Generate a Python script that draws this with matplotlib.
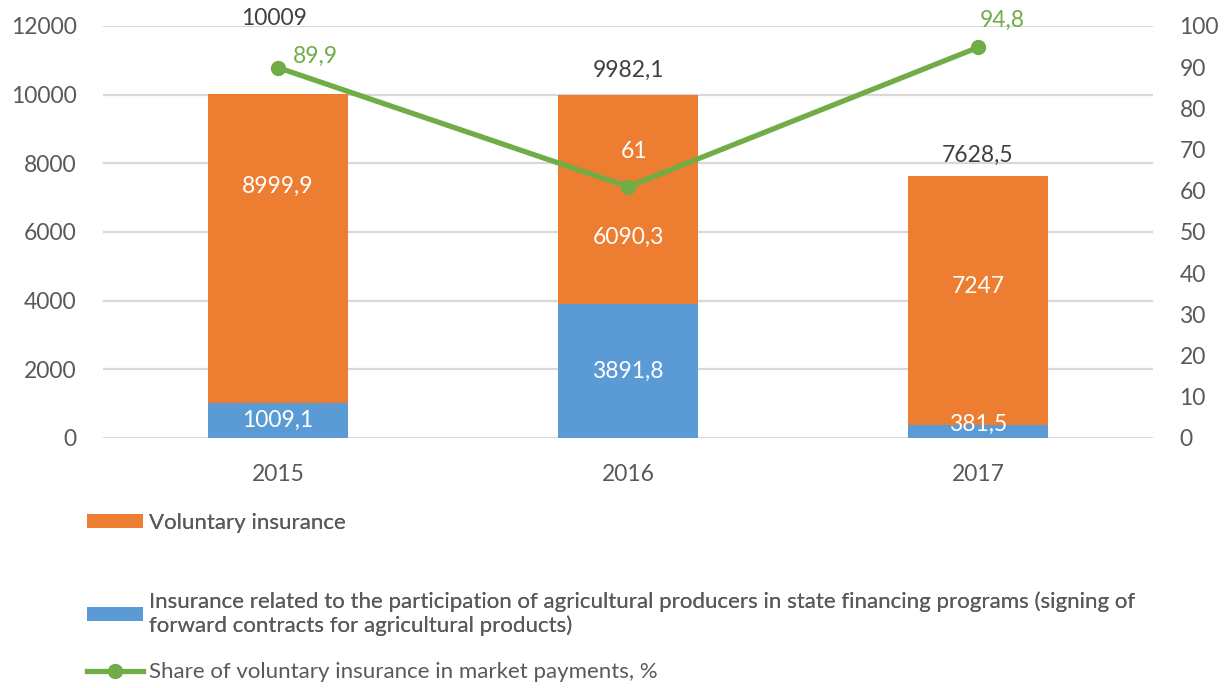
import matplotlib
matplotlib.use("Agg")
import matplotlib.pyplot as plt
from matplotlib.lines import Line2D
from matplotlib.patches import Patch
import numpy as np

plt.rcParams['font.family'] = ['Lato', 'DejaVu Sans']
plt.rcParams['font.weight'] = 'normal'

years = ["2015", "2016", "2017"]
state_programs = [1009.1, 3891.8, 381.5]
voluntary = [8999.9, 6090.3, 7247.0]
totals = [10009, 9982.1, 7628.5]
share_pct = [89.9, 61.0, 94.8]

lbl_vol = "Voluntary insurance"
lbl_state = ("Insurance related to the participation of agricultural producers in state financing programs (signing of\n"
             "forward contracts for agricultural products)")
lbl_share = "Share of voluntary insurance in market payments, %"

ORANGE = "#ED7D31"
BLUE = "#5B9BD5"
GREEN = "#70AD47"
GRAY = "#595959"
DARK = "#404040"
GRID = "#D9D9D9"
FS = 16.5
FS_LEG = 16

def fmt(v):
    s = ("%g" % v)
    return s.replace(".", ",")

fig = plt.figure(figsize=(12.3, 6.88), dpi=100)
ax = fig.add_axes([103/1230, 1-438/688, 1050/1230, 412/688])
ax2 = ax.twinx()

x = np.arange(len(years))
w = 0.4
ax.bar(x, state_programs, w, color=BLUE, zorder=2)
ax.bar(x, voluntary, w, bottom=state_programs, color=ORANGE, zorder=2)

ax.set_xlim(-0.5, 2.5)
ax.set_ylim(0, 12000)
ax.set_yticks(np.arange(0, 12001, 2000))
ax2.set_ylim(0, 100)
ax2.set_yticks(np.arange(0, 101, 10))
ax.set_xticks(x)
ax.set_xticklabels(years)

for a in (ax, ax2):
    for s in a.spines.values():
        s.set_visible(False)
    a.tick_params(length=0, labelsize=FS, labelcolor=GRAY)
ax.tick_params(axis='x', pad=19)
ax.tick_params(axis='y', pad=19)
ax2.tick_params(axis='y', pad=19)
ax.yaxis.grid(True, color=GRID, linewidth=1.6, zorder=0)
ax.set_axisbelow(True)

ax2.plot(x, share_pct, color=GREEN, linewidth=3.8, marker='o', markersize=10, zorder=5)

px = 0.72  # pixels -> points
# label offsets (pixels, up positive)
off_blue = [0, 0, 7]
off_orange = [63, -38, 14]
off_total = [(-4, 76), (0, 25), (0, 21)]
off_line = [(37, 11), (6, 35), (24, 27)]

for i in range(len(years)):
    ax.annotate(fmt(state_programs[i]), (x[i], state_programs[i]/2), xytext=(0, off_blue[i]*px),
                textcoords='offset points', ha='center', va='center', color='white', fontsize=FS, zorder=6)
    ax.annotate(fmt(voluntary[i]), (x[i], state_programs[i] + voluntary[i]/2), xytext=(0, off_orange[i]*px),
                textcoords='offset points', ha='center', va='center', color='white', fontsize=FS, zorder=6)
    ax.annotate(fmt(totals[i]), (x[i], totals[i]), xytext=(off_total[i][0]*px, off_total[i][1]*px),
                textcoords='offset points', ha='center', va='center', color=DARK, fontsize=FS, zorder=6)
    ax2.annotate(fmt(share_pct[i]), (x[i], share_pct[i]), xytext=(off_line[i][0]*px, off_line[i][1]*px),
                 textcoords='offset points', ha='center', va='center',
                 color=GREEN if i != 1 else 'white', fontsize=FS, zorder=6)

h_vol = Patch(facecolor=ORANGE)
h_state = Patch(facecolor=BLUE)
h_share = Line2D([], [], color=GREEN, linewidth=3.8, marker='o', markersize=10)

legkw = dict(frameon=False, fontsize=FS_LEG, labelcolor=GRAY, handlelength=2.5, handleheight=0.6,
             handletextpad=0.3, borderpad=0, borderaxespad=0, loc='center left')
l1 = fig.legend([h_vol], [lbl_vol], bbox_to_anchor=(87/1230, 1-523/688), **legkw)
l2 = fig.legend([h_state], [lbl_state], bbox_to_anchor=(87/1230, 1-614/688), **legkw)
l3 = fig.legend([h_share], [lbl_share], bbox_to_anchor=(87/1230, 1-672/688), **legkw)
fig.add_artist(l1)
fig.add_artist(l2)

fig.savefig("out.png", dpi=100, facecolor='white')
